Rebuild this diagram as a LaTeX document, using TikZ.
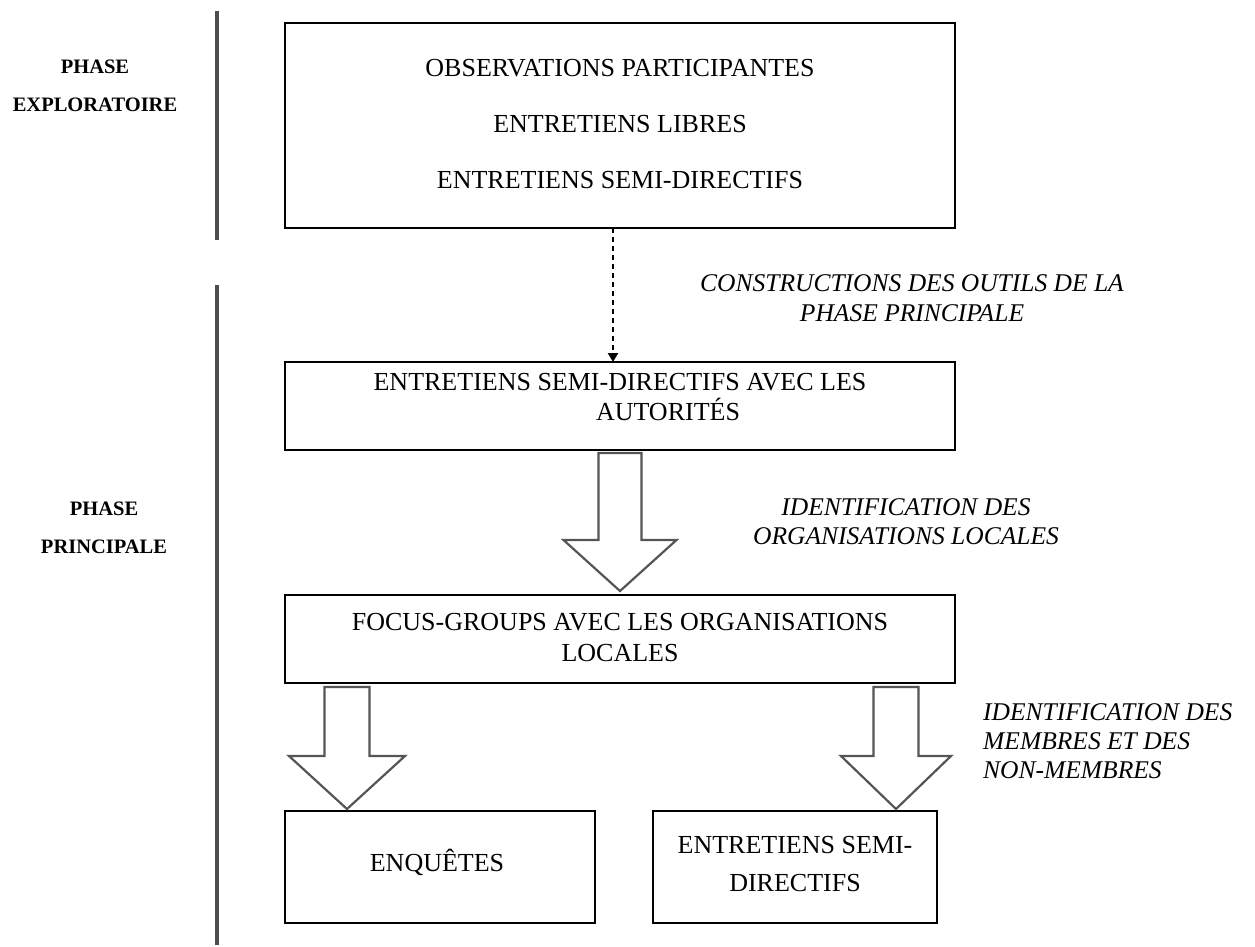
\documentclass[tikz,border=0pt]{standalone}
\usepackage{fontspec}
\setmainfont{Liberation Serif}
\usetikzlibrary{calc,arrows.meta}
\definecolor{linegray}{HTML}{4D4D4D}
\definecolor{arrowgray}{HTML}{555555}
\newcommand{\blockarrow}[5]{%
  \draw[hollow] let \p1=(#1), \p2=(#2) in
   (\x1-#3,\y1) -- (\x1+#3,\y1) -- (\x1+#3,\y2+#5) -- (\x1+#4,\y2+#5) --
   (\x1,\y2) -- (\x1-#4,\y2+#5) -- (\x1-#3,\y2+#5) -- cycle;}
\begin{document}
\begin{tikzpicture}[x=1pt,y=-1pt,
  box/.style={draw=black,line width=2.6pt,inner sep=0pt,outer sep=0pt},
  boxtext/.style={font=\fontsize{26}{30}\selectfont,align=center,inner sep=0pt},
  note/.style={font=\fontsize{25.5}{29}\selectfont\itshape,inner sep=0pt},
  phase/.style={font=\fontsize{20.5}{38}\selectfont\bfseries,align=center,inner sep=0pt},
  phaseline/.style={draw=linegray,line width=3.5pt},
  hollow/.style={draw=arrowgray,line width=2.2pt,fill=white,line join=miter},
  dotarrow/.style={draw=black,line width=2.4pt,dash pattern=on 5pt off 4pt,-{Triangle[width=10pt,length=9pt]}}]
\useasboundingbox (0,0) rectangle (1255,947);

% phase separators
\coordinate (l1a) at (217,11);  \coordinate (l1b) at (217,240);
\coordinate (l2a) at (217,285); \coordinate (l2b) at (217,945);
\draw[phaseline] (l1a) -- (l1b);
\draw[phaseline] (l2a) -- (l2b);

\node[phase] (ph1) at (95,86) {PHASE\\EXPLORATOIRE};
\node[phase] (ph2) at (104,528) {PHASE\\PRINCIPALE};

% boxes
\node[box,minimum width=670,minimum height=205] (b1) at (620,125.5) {};
\node[boxtext,font=\fontsize{26}{56}\selectfont] (t1) at (620,124)
  {OBSERVATIONS PARTICIPANTES\\ENTRETIENS LIBRES\\ENTRETIENS SEMI-DIRECTIFS};

\node[box,minimum width=670,minimum height=88] (b2) at (620,406) {};
\node[boxtext] (t2a) at (620,382) {ENTRETIENS SEMI-DIRECTIFS AVEC LES};
\node[boxtext] (t2b) at (668,409) {AUTORITÉS};

\node[box,minimum width=670,minimum height=88] (b3) at (620,639) {};
\node[boxtext,font=\fontsize{26}{31}\selectfont] (t3) at (620,638)
  {FOCUS-GROUPS AVEC LES ORGANISATIONS\\LOCALES};

\node[box,minimum width=310,minimum height=112] (b4) at (440,867) {};
\node[boxtext] (t4) at (437,862) {ENQUÊTES};

\node[box,minimum width=284,minimum height=112] (b5) at (795,867) {};
\node[boxtext,font=\fontsize{26}{38}\selectfont] (t5) at (795,864)
  {ENTRETIENS SEMI-\\DIRECTIFS};

% labels
\node[note,align=center,font=\fontsize{25.5}{30}\selectfont\itshape] (n1) at (912,298)
  {CONSTRUCTIONS DES OUTILS DE LA\\PHASE PRINCIPALE};
\node[note,align=center] (n2) at (906,522)
  {IDENTIFICATION DES\\ORGANISATIONS LOCALES};
\node[note,align=left,anchor=west] (n3) at (983,741)
  {IDENTIFICATION DES\\MEMBRES ET DES\\NON-MEMBRES};

% dotted arrow
\coordinate (d1) at ($(b1.south)+(-7,0)$);
\draw[dotarrow] (d1) -- (d1 |- b2.north);

% hollow block arrows
\coordinate (a1s) at ($(b2.south)+(0,3)$);
\coordinate (a1e) at ($(b3.north)+(0,-4)$);
\blockarrow{a1s}{a1e}{21.5}{56.5}{51}
\coordinate (a2s) at ($(b3.south west)+(62,4)$);
\coordinate (a2e) at ($(a2s |- b4.north)+(0,-2)$);
\blockarrow{a2s}{a2e}{22.5}{58}{53}
\coordinate (a3s) at ($(b3.south east)+(-59,4)$);
\coordinate (a3e) at ($(a3s |- b5.north)+(0,-2)$);
\blockarrow{a3s}{a3e}{22.5}{55}{53}
\end{tikzpicture}
\end{document}
